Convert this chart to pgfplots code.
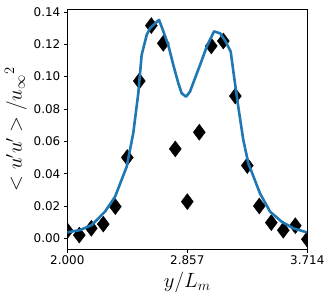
\documentclass[border=0pt]{standalone}
\usepackage{fontspec}
\setmainfont{DejaVu Sans}
\usepackage{pgfplots}
\pgfplotsset{compat=1.18}
\definecolor{mplblue}{HTML}{1F77B4}
\begin{document}
\begin{tikzpicture}
\begin{axis}[
  scale only axis,
  width=240bp, height=239.3bp,
  xmin=2.0, xmax=3.714,
  ymin=-0.0066, ymax=0.1414,
  xtick={2.0,2.857,3.714},
  xticklabels={2.000,2.857,3.714},
  ytick={0,0.02,0.04,0.06,0.08,0.10,0.12,0.14},
  yticklabel style={/pgf/number format/.cd,fixed,fixed zerofill,precision=2},
  /pgf/number format/assume math mode=true,
  tick label style={font=\fontsize{12}{14}\selectfont},
  tick align=outside,
  major tick length=3.5bp,
  tick style={black, line width=0.8bp},
  xtick pos=bottom, ytick pos=left,
  axis line style={line width=0.8bp},
  xlabel={$y/L_m$},
  ylabel={$<u^{\prime}u^{\prime}>/{u_{\infty}}^{2}$},
  label style={font=\fontsize{20}{24}\selectfont},
  clip mode=individual,
  clip marker paths=true,
]
\addplot[only marks, mark=diamond*, mark size=8bp, mark options={black, fill=black}] coordinates {
(2.0000,0.0047) (2.0857,0.0020) (2.1714,0.0062) (2.2571,0.0088) (2.3428,0.0196)
(2.4285,0.0500) (2.5142,0.0973) (2.5999,0.1316) (2.6856,0.1206) (2.7713,0.0553)
(2.8570,0.0227) (2.9427,0.0656) (3.0284,0.1190) (3.1141,0.1220) (3.1998,0.0880)
(3.2855,0.0450) (3.3712,0.0200) (3.4569,0.0097) (3.5426,0.0050) (3.6283,0.0078)
(3.7140,-0.0006)
};
\addplot[mplblue, line width=2.6bp, line join=round] coordinates {
(2.000,0.0037) (2.091,0.0051) (2.174,0.0082) (2.269,0.0165) (2.341,0.0257)
(2.424,0.0443) (2.471,0.0650) (2.507,0.0897) (2.531,0.1134) (2.567,0.1258)
(2.591,0.1300) (2.655,0.1351) (2.686,0.1280) (2.721,0.1196) (2.757,0.1072)
(2.793,0.0959) (2.817,0.0897) (2.848,0.0876) (2.876,0.0907) (2.912,0.0990)
(2.948,0.1072) (2.996,0.1186) (3.048,0.1280) (3.091,0.1268) (3.131,0.1217)
(3.167,0.1155) (3.191,0.1000) (3.221,0.0814) (3.257,0.0608) (3.293,0.0464)
(3.376,0.0278) (3.448,0.0165) (3.531,0.0103) (3.614,0.0062) (3.710,0.0037)
};
\end{axis}
\pgfresetboundingbox
\useasboundingbox ([shift={(-67.3bp,-51bp)}]current axis.south west) rectangle ([shift={(24.7bp,9.7bp)}]current axis.north east);
\end{tikzpicture}
\end{document}
